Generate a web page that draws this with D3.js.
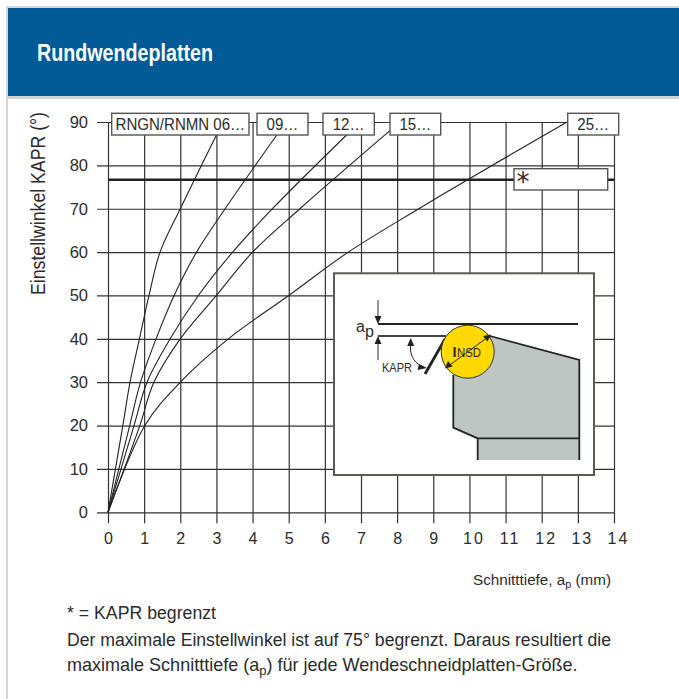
<!DOCTYPE html>
<html>
<head>
<meta charset="utf-8">
<title>Rundwendeplatten</title>
<script src="https://d3js.org/d3.v7.min.js"></script>
<style>
body { margin: 0; background: #fff; }
text { font-family: "Liberation Sans", Arial, sans-serif; fill: #2b2b2b; }
</style>
</head>
<body>
<script>

var width = 679,
    height = 699;

var sizes = ["RNGN/RNMN 06…", "09…", "12…", "15…", "25…"];
var ap06 = [0, 0.41, 0.61, 0.87, 1.135, 1.44, 2.0, 3.0];
var kapr06 = [0, 20, 30, 40, 50, 60, 70, 87];
var ap09 = [0, 0.6, 0.9, 1.33, 1.83, 2.45, 3.24, 4.67];
var kapr09 = [0, 20, 30, 40, 50, 60, 70, 87];
var ap12 = [0, 0.72, 1.08, 1.72, 2.5, 3.45, 4.55, 6.6];
var kapr12 = [0, 20, 30, 40, 50, 60, 70, 87];
var ap15 = [0, 0.88, 1.27, 2.0, 3.0, 4.0, 5.31, 7.8];
var kapr15 = [0, 20, 30, 40, 50, 60, 70, 88];
var ap25 = [0, 1.02, 2.0, 3.33, 5.0, 6.65, 8.6, 9.95, 12.7];
var kapr25 = [0, 20, 30, 40, 50, 60, 70, 76.7, 90];
var kaprLimit = 76.7;
var xTicks = d3.range(0, 15);
var yTicks = d3.range(0, 100, 10);

var series = [[ap06, kapr06], [ap09, kapr09], [ap12, kapr12], [ap15, kapr15], [ap25, kapr25]];

var x = d3.scaleLinear().domain([0, 14]).range([108, 614]);
var y = d3.scaleLinear().domain([0, 90]).range([512.3, 122]);

var svg = d3.select("body").append("svg")
    .attr("width", width)
    .attr("height", height)
    .style("display", "block");

// squeeze real text a bit, the original type is narrow
function narrow(sel, factor) {
  sel.attr("textLength", function() { return this.getComputedTextLength() * factor; })
     .attr("lengthAdjust", "spacingAndGlyphs");
}

// same idea for text with a subscript in it, squeezes the whole line to a width
function fitLine(sel, left, baseline, target) {
  var k = target / sel.node().getComputedTextLength();
  sel.attr("transform", "translate(" + left + "," + baseline + ") scale(" + k + ",1)");
}

// page frame and header
svg.append("rect").attr("x", 6).attr("y", 6).attr("width", 2).attr("height", height).attr("fill", "#d4d6d6");
svg.append("rect").attr("x", 6).attr("y", 6).attr("width", width).attr("height", 2).attr("fill", "#d4d6d6");
svg.append("rect").attr("x", 8).attr("y", 8).attr("width", width).attr("height", 88).attr("fill", "#005b96");
svg.append("rect").attr("x", 6).attr("y", 96).attr("width", width).attr("height", 3).attr("fill", "#cfd3d5");
svg.append("text").attr("x", 37).attr("y", 61)
    .attr("font-size", 23).attr("font-weight", "bold").style("fill", "#fff")
    .attr("textLength", 176).attr("lengthAdjust", "spacingAndGlyphs")
    .text("Rundwendeplatten");

// axes, the ticks double as the grid
var xAxis = svg.append("g")
    .attr("transform", "translate(0," + y(0) + ")")
    .call(d3.axisBottom(x).tickValues(xTicks).tickFormat(d3.format("d"))
        .tickSizeInner(-(y(0) - y(90))).tickSizeOuter(0).tickPadding(20));
xAxis.selectAll(".tick line")
    .attr("y2", y(90) - y(0))
    .attr("y1", 11);
xAxis.selectAll("text")
    .attr("font-size", 16)
    .attr("y", 20)
    .attr("dx", function(d) { return d >= 10 ? 4 : 0; })
    .style("letter-spacing", function(d) { return d >= 10 ? "2px" : null; });

var yAxis = svg.append("g")
    .attr("transform", "translate(" + x(0) + ",0)")
    .call(d3.axisLeft(y).tickValues(yTicks).tickFormat(d3.format("d"))
        .tickSizeInner(0).tickSizeOuter(0).tickPadding(20));
yAxis.selectAll(".tick line")
    .attr("x1", -11)
    .attr("x2", x(14) - x(0));
yAxis.selectAll("text").attr("font-size", 16.5);

svg.selectAll(".domain").remove();
svg.selectAll(".tick line").attr("stroke", "#333").attr("stroke-width", 1.2);

// size curves
var line = d3.line()
    .x(function(d) { return x(d[0]); })
    .y(function(d) { return y(d[1]); })
    .curve(d3.curveCatmullRom.alpha(0.5));

svg.selectAll("path.curve")
    .data(series)
    .enter().append("path")
    .attr("class", "curve")
    .attr("fill", "none")
    .attr("stroke", "#222")
    .attr("stroke-width", 1.1)
    .attr("d", function(s) { return line(d3.zip(s[0], s[1])); });

// 75 degree limit
svg.append("line")
    .attr("x1", x(0)).attr("x2", x(14))
    .attr("y1", y(kaprLimit)).attr("y2", y(kaprLimit))
    .attr("stroke", "#222").attr("stroke-width", 2.6);

// size labels on top of the curves
var boxes = [[111.7, 249], [257, 308], [323, 374.3], [390, 440.7], [567.7, 618.7]];
var label = svg.selectAll("g.size")
    .data(sizes)
    .enter().append("g")
    .attr("class", "size");
label.append("rect")
    .attr("x", function(d, i) { return boxes[i][0]; })
    .attr("y", 113.3)
    .attr("width", function(d, i) { return boxes[i][1] - boxes[i][0]; })
    .attr("height", 21.7)
    .attr("fill", "#fff").attr("stroke", "#555").attr("stroke-width", 1.4);
label.append("text")
    .attr("x", function(d, i) { return (boxes[i][0] + boxes[i][1]) / 2; })
    .attr("y", 129.5)
    .attr("text-anchor", "middle")
    .attr("font-size", 16)
    .text(function(d) { return d; })
    .call(narrow, 0.94);

svg.append("rect")
    .attr("x", 514).attr("y", 168.7).attr("width", 93.7).attr("height", 21.3)
    .attr("fill", "#fff").attr("stroke", "#555").attr("stroke-width", 1.4);
svg.append("text").attr("x", 516.5).attr("y", 191).attr("font-size", 26)
    .style("font-family", "DejaVu Sans").text("*");

// axis titles
svg.append("text")
    .attr("transform", "translate(45,295) rotate(-90)")
    .attr("font-size", 20)
    .attr("textLength", 183).attr("lengthAdjust", "spacingAndGlyphs")
    .text("Einstellwinkel KAPR (°)");

var xTitle = svg.append("text").attr("font-size", 15.5);
xTitle.append("tspan").text("Schnitttiefe, a");
xTitle.append("tspan").attr("font-size", 11).attr("dy", 3).text("p");
xTitle.append("tspan").attr("dy", -3).text(" (mm)");
xTitle.call(fitLine, 473, 585, 138);

// notes below the chart
svg.append("text").attr("x", 67).attr("y", 619).attr("font-size", 18)
    .attr("textLength", 149).attr("lengthAdjust", "spacingAndGlyphs")
    .text("* = KAPR begrenzt");
svg.append("text").attr("x", 67).attr("y", 646).attr("font-size", 18)
    .attr("textLength", 544).attr("lengthAdjust", "spacingAndGlyphs")
    .text("Der maximale Einstellwinkel ist auf 75° begrenzt. Daraus resultiert die");
var note = svg.append("text").attr("font-size", 18);
note.append("tspan").text("maximale Schnitttiefe (a");
note.append("tspan").attr("font-size", 13).attr("dy", 4).text("p");
note.append("tspan").attr("dy", -4).text(") für jede Wendeschneidplatten-Größe.");
note.call(fitLine, 67, 671, 511);

// inset sketch of the insert
var inset = svg.append("g");
inset.append("rect")
    .attr("x", 334).attr("y", 273.3).attr("width", 260).attr("height", 201.7)
    .attr("fill", "#fff").attr("stroke", "#5a5a52").attr("stroke-width", 2);
inset.append("path")
    .attr("d", "M453.3,375V427.7L477.7,438.3V460H579.3V360L490,336Z")
    .attr("fill", "#bdc6c2");
inset.append("path")
    .attr("d", "M453.3,375V427.7L477.7,438.3V460M477.7,438.3H579.3M579.3,460V360L490,336")
    .attr("fill", "none").attr("stroke", "#222").attr("stroke-width", 1.8);
inset.append("path").attr("d", "M378,324H578").attr("stroke", "#222").attr("stroke-width", 2);
inset.append("path").attr("d", "M378,336H446").attr("stroke", "#444").attr("stroke-width", 1.8);
inset.append("path").attr("d", "M425,374L445,339").attr("stroke", "#222").attr("stroke-width", 2.8);
inset.append("circle")
    .attr("cx", 467.7).attr("cy", 351.7).attr("r", 26.5)
    .attr("fill", "#ffd900").attr("stroke", "#333").attr("stroke-width", 1);
inset.append("path").attr("d", "M378,300V318M378,342V360").attr("stroke", "#333").attr("stroke-width", 1);
inset.append("path").attr("d", "M446.7,367.3L489.3,336").attr("stroke", "#222").attr("stroke-width", 1);
inset.append("path").attr("d", "M410.7,345C409,356 416,365 424,367").attr("fill", "none").attr("stroke", "#222").attr("stroke-width", 1);
inset.append("path")
    .attr("d", "M378,324l-3.5,-8h7ZM378,336l-3.5,8h7ZM410.7,338l-3.5,8h7ZM427,368l-8,-4l-1.5,6ZM445,368.5l3,-7.5l4.5,5.5ZM491,334.5l-8,1.5l4.5,5.5Z")
    .attr("fill", "#222");
inset.append("text").attr("x", 356).attr("y", 332).attr("font-size", 16).text("a");
inset.append("text").attr("x", 365).attr("y", 337).attr("font-size", 16).text("p");
inset.append("text").attr("x", 382).attr("y", 372).attr("font-size", 13.5)
    .attr("textLength", 30).attr("lengthAdjust", "spacingAndGlyphs").text("KAPR");
inset.append("text").attr("x", 452.5).attr("y", 357).attr("font-size", 15).attr("font-weight", "bold")
    .attr("textLength", 4).attr("lengthAdjust", "spacingAndGlyphs").text("I");
inset.append("text").attr("x", 457).attr("y", 356.7).attr("font-size", 13.5)
    .attr("textLength", 24).attr("lengthAdjust", "spacingAndGlyphs").text("NSD");

</script>
</body>
</html>
